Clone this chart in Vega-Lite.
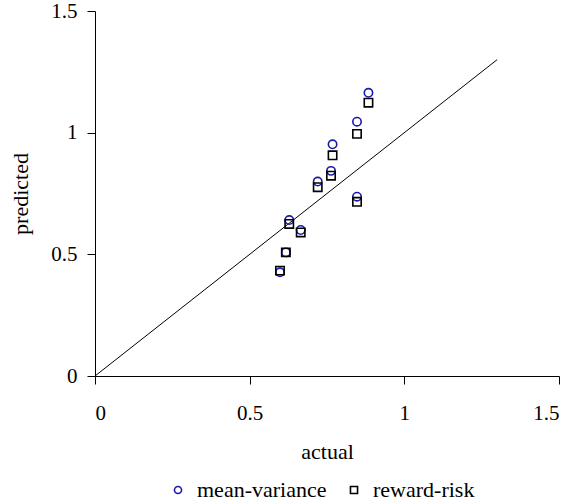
{
  "$schema": "https://vega.github.io/schema/vega-lite/v6.json",
  "width": 464,
  "height": 365,
  "autosize": "none",
  "padding": {"left": 95, "top": 11, "right": 18, "bottom": 128},
  "background": "white",
  "config": {
    "view": {"stroke": null},
    "font": "Liberation Serif",
    "axis": {
      "grid": false,
      "domainColor": "black",
      "tickColor": "black",
      "tickSize": 8,
      "labelColor": "black",
      "titleColor": "black",
      "labelFont": "Liberation Serif",
      "titleFont": "Liberation Serif",
      "labelFontSize": 21,
      "titleFontSize": 22,
      "titleFontWeight": "normal"
    },
    "legend": {
      "labelFont": "Times New Roman, Liberation Serif, serif",
      "labelFontSize": 22,
      "labelColor": "black"
    }
  },
  "layer": [
    {
      "data": {"values": [{"actual": 0, "predicted": 0}, {"actual": 1.3, "predicted": 1.3}]},
      "mark": {"type": "line", "color": "black", "strokeWidth": 1},
      "encoding": {
        "x": {"field": "actual", "type": "quantitative"},
        "y": {"field": "predicted", "type": "quantitative"}
      }
    },
    {
      "data": {
        "values": [
          {"actual": 0.884, "predicted": 1.164, "method": "mean-variance"},
          {"actual": 0.884, "predicted": 1.123, "method": "reward-risk"},
          {"actual": 0.847, "predicted": 1.045, "method": "mean-variance"},
          {"actual": 0.847, "predicted": 0.995, "method": "reward-risk"},
          {"actual": 0.768, "predicted": 0.952, "method": "mean-variance"},
          {"actual": 0.768, "predicted": 0.907, "method": "reward-risk"},
          {"actual": 0.763, "predicted": 0.843, "method": "mean-variance"},
          {"actual": 0.763, "predicted": 0.823, "method": "reward-risk"},
          {"actual": 0.720, "predicted": 0.799, "method": "mean-variance"},
          {"actual": 0.720, "predicted": 0.776, "method": "reward-risk"},
          {"actual": 0.847, "predicted": 0.737, "method": "mean-variance"},
          {"actual": 0.847, "predicted": 0.716, "method": "reward-risk"},
          {"actual": 0.628, "predicted": 0.641, "method": "mean-variance"},
          {"actual": 0.628, "predicted": 0.625, "method": "reward-risk"},
          {"actual": 0.665, "predicted": 0.600, "method": "mean-variance"},
          {"actual": 0.665, "predicted": 0.590, "method": "reward-risk"},
          {"actual": 0.617, "predicted": 0.508, "method": "mean-variance"},
          {"actual": 0.617, "predicted": 0.508, "method": "reward-risk"},
          {"actual": 0.598, "predicted": 0.426, "method": "mean-variance"},
          {"actual": 0.598, "predicted": 0.433, "method": "reward-risk"}
        ]
      },
      "mark": {"type": "point", "filled": false, "strokeWidth": 1.6, "size": 70, "opacity": 1},
      "encoding": {
        "x": {
          "field": "actual", "type": "quantitative",
          "scale": {"domain": [0, 1.5], "nice": false},
          "axis": {"values": [0, 0.5, 1, 1.5], "title": "actual", "labelPadding": 18, "titlePadding": 18, "format": "~g"}
        },
        "y": {
          "field": "predicted", "type": "quantitative",
          "scale": {"domain": [0, 1.5], "nice": false},
          "axis": {"values": [0, 0.5, 1, 1.5], "title": "predicted", "labelPadding": 10, "titlePadding": 18, "format": "~g"}
        },
        "color": {
          "field": "method", "type": "nominal",
          "scale": {"domain": ["mean-variance", "reward-risk"], "range": ["#1a1aa8", "#000000"]},
          "legend": {
            "orient": "none", "legendX": 72, "legendY": 468,
            "direction": "horizontal", "title": null,
            "symbolSize": 50, "symbolStrokeWidth": 1.6,
            "columnPadding": 16, "labelOffset": 8
          }
        },
        "shape": {
          "field": "method", "type": "nominal",
          "scale": {"domain": ["mean-variance", "reward-risk"], "range": ["circle", "square"]}
        }
      }
    }
  ]
}
